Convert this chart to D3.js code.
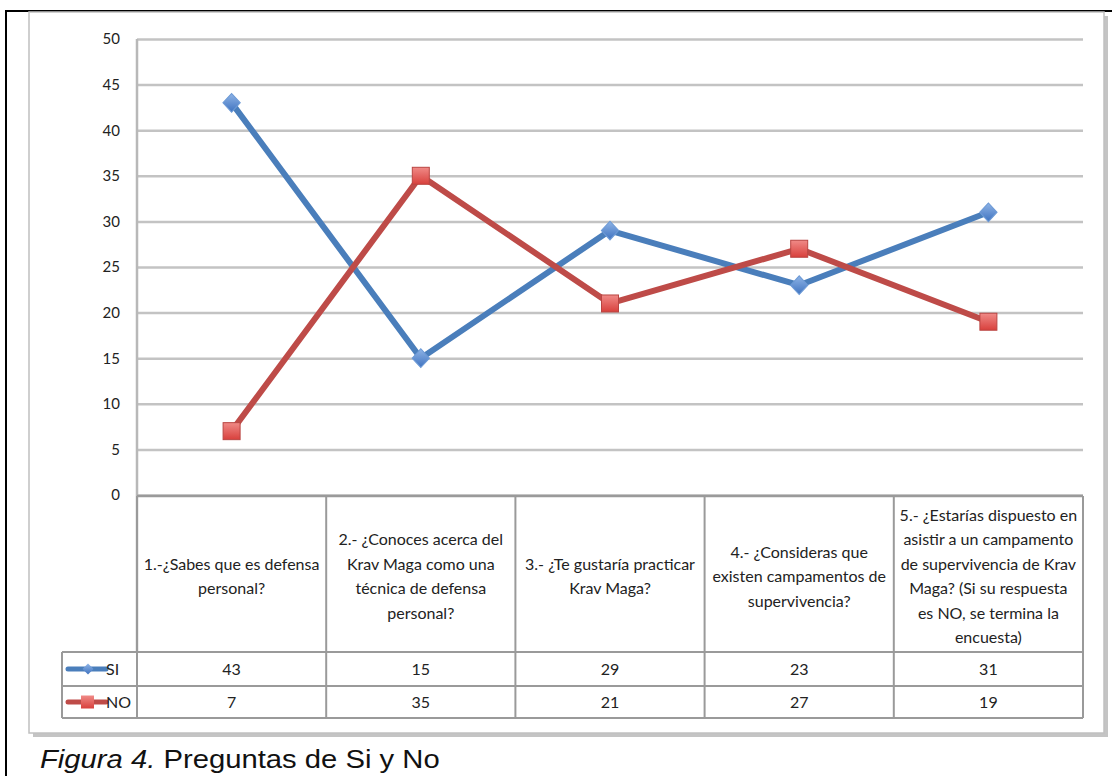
<!DOCTYPE html>
<html>
<head>
<meta charset="utf-8">
<script src="https://cdn.jsdelivr.net/npm/d3@7"></script>
<style>
  body { margin: 0; background: #fff; }
  svg { display: block; }
</style>
</head>
<body>
<script>
'use strict';

// chart data
const categories = [
  "1.-¿Sabes que es defensa personal?",
  "2.- ¿Conoces acerca del Krav Maga como una técnica de defensa personal?",
  "3.- ¿Te gustaría practicar Krav Maga?",
  "4.- ¿Consideras que existen campamentos de supervivencia?",
  "5.- ¿Estarías dispuesto en asistir a un campamento de supervivencia de Krav Maga?  (Si su respuesta es NO, se termina la encuesta)"
];
// how each header wraps in the table
const categoryLines = [
  ["1.-¿Sabes que es defensa", "personal?"],
  ["2.- ¿Conoces acerca del", "Krav Maga como una", "técnica de defensa", "personal?"],
  ["3.- ¿Te gustaría practicar", "Krav Maga?"],
  ["4.- ¿Consideras que", "existen campamentos de", "supervivencia?"],
  ["5.- ¿Estarías dispuesto en", "asistir a un campamento", "de supervivencia de Krav", "Maga?  (Si su respuesta", "es NO, se termina la", "encuesta)"]
];
const seriesNames = ["SI", "NO"];
const siValues = [43, 15, 29, 23, 31];
const noValues = [7, 35, 21, 27, 19];
const yTicks = [0, 5, 10, 15, 20, 25, 30, 35, 40, 45, 50];

const W = 1112, H = 776;
const font = "Lato, 'Open Sans', sans-serif";
const blue = "#4a7ebb", red = "#be4b48";

const svg = d3.select("body").append("svg")
  .attr("width", W)
  .attr("height", H);

// gradients for markers
const defs = svg.append("defs");
let g1 = defs.append("linearGradient").attr("id", "gBlue").attr("x1", 0).attr("y1", 0).attr("x2", 1).attr("y2", 1);
g1.append("stop").attr("offset", "0%").attr("stop-color", "#8fb4e6");
g1.append("stop").attr("offset", "100%").attr("stop-color", "#3f73c0");
let g2 = defs.append("linearGradient").attr("id", "gRed").attr("x1", 0).attr("y1", 0).attr("x2", 0).attr("y2", 1);
g2.append("stop").attr("offset", "0%").attr("stop-color", "#f08a87");
g2.append("stop").attr("offset", "100%").attr("stop-color", "#d8403c");

// diamond = rotated square
const diamond = d3.symbol(d3.symbolSquare, 150)();
const smallDiamond = d3.symbol(d3.symbolSquare, 60)();

// outer page border (black, top + left)
svg.append("line").attr("x1", 6).attr("x2", W).attr("y1", 11).attr("y2", 11)
  .attr("stroke", "#000").attr("stroke-width", 2);
svg.append("line").attr("x1", 6).attr("x2", 6).attr("y1", 10).attr("y2", H)
  .attr("stroke", "#000").attr("stroke-width", 2);

// chart frame with shadow
svg.append("rect").attr("x", 33).attr("y", 16).attr("width", 1075).attr("height", 721)
  .attr("fill", "#c4c4c4");
svg.append("rect").attr("x", 29).attr("y", 12).attr("width", 1075).attr("height", 721)
  .attr("fill", "#fff").attr("stroke", "#c0c0c0").attr("stroke-width", 1.5);

// scales
const x = d3.scaleBand().domain(categories).range([137, 1083]);
const y = d3.scaleLinear().domain([0, 50]).range([495, 39]);

// gridlines + y labels
const yAxis = d3.axisLeft(y).tickValues(yTicks).tickSize(-(1083 - 137)).tickPadding(17);
const gy = svg.append("g").attr("transform", "translate(137,0)").call(yAxis);
gy.select(".domain").remove();
gy.selectAll(".tick line").attr("stroke", "#c3c3c3").attr("stroke-width", 2.5);
gy.selectAll(".tick text")
  .attr("fill", "#222")
  .style("font-family", font)
  .style("font-size", "15px");

// plot left edge
svg.append("line").attr("x1", 137).attr("x2", 137).attr("y1", 39).attr("y2", 652)
  .attr("stroke", "#b8b8b8").attr("stroke-width", 2.5);

// data table
const tTop = 496, tHead = 652, tRow1 = 686, tBot = 718, legLeft = 62;
const tbl = svg.append("g");
tbl.append("line").attr("x1", 137).attr("x2", 1083).attr("y1", tTop).attr("y2", tTop)
  .attr("stroke", "#9a9a9a").attr("stroke-width", 2.5);
[tHead, tRow1, tBot].forEach(function(yy) {
  tbl.append("line").attr("x1", legLeft).attr("x2", 1083).attr("y1", yy).attr("y2", yy)
    .attr("stroke", "#9a9a9a").attr("stroke-width", 2);
});
categories.forEach(function(c, i) {
  let xx = x(c);
  tbl.append("line").attr("x1", xx).attr("x2", xx).attr("y1", tTop).attr("y2", tBot)
    .attr("stroke", "#9a9a9a").attr("stroke-width", 2);
});
tbl.append("line").attr("x1", 1083).attr("x2", 1083).attr("y1", tTop).attr("y2", tBot)
  .attr("stroke", "#9a9a9a").attr("stroke-width", 2);
tbl.append("line").attr("x1", legLeft).attr("x2", legLeft).attr("y1", tHead).attr("y2", tBot)
  .attr("stroke", "#9a9a9a").attr("stroke-width", 2);

// header text
const lineH = 24.5;
categories.forEach(function(c, i) {
  let lines = categoryLines[i];
  let cx = x(c) + x.bandwidth() / 2;
  let cy = (tTop + tHead) / 2 + 2;
  let t = tbl.append("text")
    .attr("text-anchor", "middle")
    .style("font-family", font)
    .style("font-size", "16px")
    .attr("fill", "#222");
  lines.forEach(function(l, j) {
    t.append("tspan")
      .attr("x", cx)
      .attr("y", cy + (j - (lines.length - 1) / 2) * lineH + 6)
      .text(l);
  });
});

// value rows
const rows = [siValues, noValues];
const rowY = [(tHead + tRow1) / 2, (tRow1 + tBot) / 2];
rows.forEach(function(vals, r) {
  tbl.selectAll(".v" + r)
    .data(vals).enter()
    .append("text")
      .attr("x", (d, i) => x(categories[i]) + x.bandwidth() / 2)
      .attr("y", rowY[r] + 6)
      .attr("text-anchor", "middle")
      .style("font-family", font)
      .style("font-size", "16px")
      .attr("fill", "#222")
      .text(d => d);
});

// legend keys in table
const colors = [blue, red];
seriesNames.forEach(function(s, r) {
  let yy = rowY[r];
  tbl.append("line").attr("x1", 68).attr("x2", 106).attr("y1", yy).attr("y2", yy)
    .attr("stroke", colors[r]).attr("stroke-width", 5).attr("stroke-linecap", "round");
  if (r === 0) {
    tbl.append("path")
      .attr("d", smallDiamond)
      .attr("transform", "translate(88," + yy + ") rotate(45)")
      .attr("fill", "url(#gBlue)");
  } else {
    tbl.append("rect").attr("x", 81).attr("y", yy - 6.5).attr("width", 13).attr("height", 13)
      .attr("fill", "url(#gRed)");
  }
  tbl.append("text").attr("x", 106).attr("y", yy + 6)
    .style("font-family", font).style("font-size", "16px").attr("fill", "#222")
    .text(s);
});

// lines
const line = d3.line()
  .x((d, i) => x(categories[i]) + x.bandwidth() / 2)
  .y(d => y(d));

[siValues, noValues].forEach(function(vals, r) {
  svg.append("path")
    .datum(vals)
    .attr("fill", "none")
    .attr("stroke", colors[r])
    .attr("stroke-width", 6)
    .attr("stroke-linejoin", "round")
    .attr("d", line);
});

// markers
svg.selectAll(".diamond")
  .data(siValues).enter()
  .append("path")
    .attr("d", diamond)
    .attr("transform", (d, i) => "translate(" + (x(categories[i]) + x.bandwidth() / 2) + "," + y(d) + ") scale(1,1.08) rotate(45)")
    .attr("fill", "url(#gBlue)")
    .attr("stroke", "#6d9ad6")
    .attr("stroke-width", 1);

svg.selectAll(".square")
  .data(noValues).enter()
  .append("rect")
    .attr("x", (d, i) => x(categories[i]) + x.bandwidth() / 2 - 8.5)
    .attr("y", d => y(d) - 8.5)
    .attr("width", 17)
    .attr("height", 17)
    .attr("fill", "url(#gRed)")
    .attr("stroke", "#b94542")
    .attr("stroke-width", 1);

// caption
const cap = svg.append("text")
  .attr("x", 40)
  .attr("y", 768)
  .style("font-family", "'Liberation Sans', Arial, sans-serif")
  .style("font-size", "26px")
  .attr("fill", "#111");
cap.append("tspan").style("font-style", "italic").text("Figura 4.");
cap.append("tspan").text(" Preguntas de Si y No");
// stretch to the width seen in the figure
let capW = cap.node().getComputedTextLength();
cap.attr("transform", "translate(40,0) scale(" + (400 / capW) + ",1) translate(-40,0)");
</script>
</body>
</html>
